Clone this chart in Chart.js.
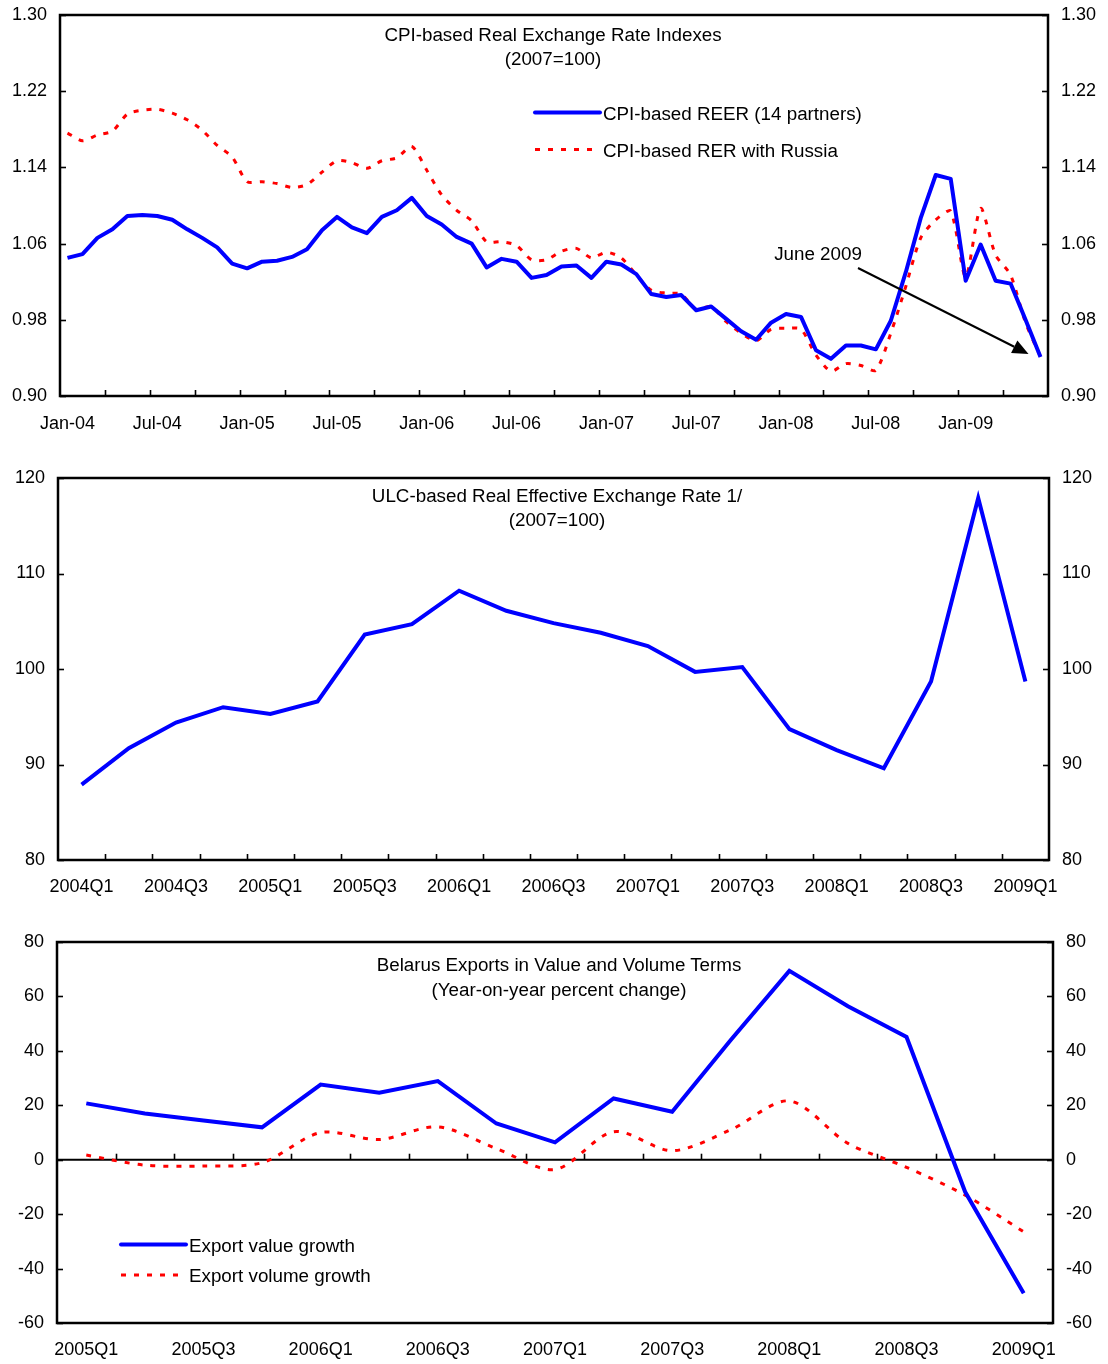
<!DOCTYPE html>
<html><head><meta charset="utf-8">
<script src="https://cdn.jsdelivr.net/npm/chart.js@4.4.1/dist/chart.umd.min.js"></script>
<style>
html,body{margin:0;padding:0;background:#fff;}
body{width:1108px;height:1364px;position:relative;overflow:hidden;font-family:"Liberation Sans",Arial,sans-serif;color:#000;}
.cv{position:absolute;left:0;width:1108px;}
.t{position:absolute;font-size:18.8px;line-height:20px;white-space:nowrap;transform:translate(-50%,-50%);}
.l{position:absolute;font-size:18.8px;line-height:20px;white-space:nowrap;transform:translateY(-50%);}
svg.ov{position:absolute;left:0;top:0;pointer-events:none;}
</style></head><body>
<div class="cv" style="top:0;height:445px"><canvas id="c1"></canvas></div>
<div class="cv" style="top:455px;height:450px"><canvas id="c2"></canvas></div>
<div class="cv" style="top:915px;height:449px"><canvas id="c3"></canvas></div>

<svg class="ov" width="1108" height="1364">
  <line x1="535" y1="112.5" x2="600" y2="112.5" stroke="#0000FF" stroke-width="4" stroke-linecap="round"/>
  <line x1="535" y1="149.5" x2="598" y2="149.5" stroke="#FF0000" stroke-width="3" stroke-dasharray="5 8"/>
  <line x1="121" y1="1244.5" x2="186" y2="1244.5" stroke="#0000FF" stroke-width="4" stroke-linecap="round"/>
  <line x1="121" y1="1275" x2="184" y2="1275" stroke="#FF0000" stroke-width="3" stroke-dasharray="5 8"/>
</svg>

<div class="t" style="left:553px;top:35px">CPI-based Real Exchange Rate Indexes</div>
<div class="t" style="left:553px;top:59px">(2007=100)</div>
<div class="l" style="left:603px;top:114px">CPI-based REER (14 partners)</div>
<div class="l" style="left:603px;top:151px">CPI-based RER with Russia</div>
<div class="t" style="left:818px;top:254px">June 2009</div>

<div class="t" style="left:557px;top:496px">ULC-based Real Effective Exchange Rate 1/</div>
<div class="t" style="left:557px;top:520px">(2007=100)</div>

<div class="t" style="left:559px;top:965px">Belarus Exports in Value and Volume Terms</div>
<div class="t" style="left:559px;top:990px">(Year-on-year percent change)</div>
<div class="l" style="left:189px;top:1246px">Export value growth</div>
<div class="l" style="left:189px;top:1276px">Export volume growth</div>

<script>
// ---------- DATA ----------
const months = ["Jan-04","Feb-04","Mar-04","Apr-04","May-04","Jun-04","Jul-04","Aug-04","Sep-04","Oct-04","Nov-04","Dec-04",
"Jan-05","Feb-05","Mar-05","Apr-05","May-05","Jun-05","Jul-05","Aug-05","Sep-05","Oct-05","Nov-05","Dec-05",
"Jan-06","Feb-06","Mar-06","Apr-06","May-06","Jun-06","Jul-06","Aug-06","Sep-06","Oct-06","Nov-06","Dec-06",
"Jan-07","Feb-07","Mar-07","Apr-07","May-07","Jun-07","Jul-07","Aug-07","Sep-07","Oct-07","Nov-07","Dec-07",
"Jan-08","Feb-08","Mar-08","Apr-08","May-08","Jun-08","Jul-08","Aug-08","Sep-08","Oct-08","Nov-08","Dec-08",
"Jan-09","Feb-09","Mar-09","Apr-09","May-09","Jun-09"];
const reer14Partners = [1.045,1.049,1.066,1.075,1.089,1.090,1.089,1.085,1.075,1.066,1.056,1.039,
1.034,1.041,1.042,1.046,1.054,1.074,1.088,1.077,1.071,1.088,1.095,1.108,
1.089,1.080,1.067,1.060,1.035,1.044,1.041,1.024,1.027,1.036,1.037,1.024,
1.041,1.038,1.028,1.007,1.004,1.006,0.990,0.994,0.981,0.968,0.959,0.977,
0.986,0.983,0.948,0.939,0.953,0.953,0.949,0.979,1.030,1.087,1.132,1.128,
1.021,1.059,1.021,1.018,0.980,0.941];
const rerRussia = [1.176,1.168,1.174,1.178,1.196,1.200,1.201,1.197,1.190,1.179,1.163,1.151,
1.125,1.125,1.123,1.119,1.122,1.135,1.147,1.145,1.139,1.147,1.150,1.162,
1.137,1.111,1.095,1.084,1.062,1.062,1.058,1.043,1.043,1.052,1.055,1.045,
1.051,1.045,1.027,1.011,1.008,1.007,0.991,0.994,0.978,0.966,0.958,0.970,
0.971,0.970,0.943,0.926,0.934,0.932,0.927,0.966,1.015,1.066,1.085,1.094,
1.025,1.097,1.048,1.027,0.977,0.941];

const quartersUlc = ["2004Q1","2004Q2","2004Q3","2004Q4","2005Q1","2005Q2","2005Q3","2005Q4",
"2006Q1","2006Q2","2006Q3","2006Q4","2007Q1","2007Q2","2007Q3","2007Q4",
"2008Q1","2008Q2","2008Q3","2008Q4","2009Q1"];
const ulcReer = [87.9,91.7,94.4,96.0,95.3,96.6,103.6,104.7,108.2,106.1,104.8,103.8,102.4,99.7,100.2,93.7,91.5,89.6,98.7,117.9,98.7];

const quartersExp = ["2005Q1","2005Q2","2005Q3","2005Q4","2006Q1","2006Q2","2006Q3","2006Q4",
"2007Q1","2007Q2","2007Q3","2007Q4","2008Q1","2008Q2","2008Q3","2008Q4","2009Q1"];
const exportValueGrowth = [20.7,17.0,14.4,11.9,27.6,24.6,28.9,13.3,6.4,22.5,17.6,44.0,69.4,56.4,45.1,-11.8,-49.1];
const exportVolumeGrowth = [1.7,-2.0,-2.3,-1.1,10.0,7.4,12.1,4.1,-3.6,10.3,3.3,11.0,21.6,6.0,-2.8,-13.0,-26.5];

// ---------- SETUP ----------
Chart.defaults.font.family = '"Liberation Sans", Arial, sans-serif';
Chart.defaults.font.size = 18;
Chart.defaults.color = '#000';

const framePlugin = {
  id: 'frame',
  beforeDatasetsDraw(chart, args, o) {
    if (o.zeroLine) {
      const {ctx, chartArea: a} = chart;
      const py = chart.scales.y.getPixelForValue(0);
      ctx.save();
      ctx.strokeStyle = '#000'; ctx.lineWidth = 2;
      ctx.beginPath(); ctx.moveTo(a.left, py); ctx.lineTo(a.right, py); ctx.stroke();
      ctx.restore();
    }
  },
  afterDatasetsDraw(chart, args, o) {
    const {ctx, chartArea: a, scales} = chart;
    ctx.save();
    ctx.strokeStyle = '#000';
    ctx.lineWidth = 2.5;
    ctx.strokeRect(a.left, a.top, a.right - a.left, a.bottom - a.top);
    ctx.lineWidth = 1.6;
    const line = (x1, y1, x2, y2) => { ctx.beginPath(); ctx.moveTo(x1, y1); ctx.lineTo(x2, y2); ctx.stroke(); };
    const y = scales.y;
    y.ticks.forEach((t, i) => {
      const py = Math.round(y.getPixelForTick(i)) + 0.5;
      line(a.left, py, a.left + 6, py);
      line(a.right - 6, py, a.right, py);
    });
    const x = scales.x;
    const n = chart.data.labels.length;
    const half = (x.getPixelForValue(1) - x.getPixelForValue(0)) / 2;
    const baseY = (o.tickBase === undefined || o.tickBase === null) ? a.bottom : y.getPixelForValue(o.tickBase);
    for (let k = o.xTickEvery; k < n; k += o.xTickEvery) {
      const px = Math.round(x.getPixelForValue(k) - half) + 0.5;
      line(px, baseY, px, baseY - 6);
    }
    if (o.arrow) {
      // annotation arrow pointing at the last observation (June 2009)
      const last = chart.data.datasets[0].data.length - 1;
      const tx = x.getPixelForValue(last) - 12;
      const ty = y.getPixelForValue(chart.data.datasets[0].data[last]) - 3;
      const sx = 858, sy = 268;
      const ang = Math.atan2(ty - sy, tx - sx);
      const hl = 16, hw = 7;
      const bx = tx - hl * Math.cos(ang), by = ty - hl * Math.sin(ang);
      ctx.lineWidth = 2;
      line(sx, sy, bx, by);
      ctx.fillStyle = '#000';
      ctx.beginPath();
      ctx.moveTo(tx, ty);
      ctx.lineTo(bx + hw * Math.sin(ang), by - hw * Math.cos(ang));
      ctx.lineTo(bx - hw * Math.sin(ang), by + hw * Math.cos(ang));
      ctx.closePath(); ctx.fill();
    }
    ctx.restore();
  }
};

function yAxis(pos, min, max, step, decimals, width) {
  return {
    position: pos, min: min, max: max,
    ticks: { stepSize: step, padding: 13, callback: v => Number(v).toFixed(decimals) },
    grid: { display: false, drawTicks: false },
    border: { display: false },
    afterFit(s) { s.width = width; s.paddingTop = 0; s.paddingBottom = 0; }
  };
}
function xAxis(every, height, padding) {
  return {
    type: 'category', offset: true,
    ticks: { autoSkip: false, maxRotation: 0, padding: padding,
      callback: function (v, i) { return (i % every === 0) ? this.getLabelForValue(v) : null; } },
    grid: { display: false, drawTicks: false, offset: true },
    border: { display: false },
    afterFit(s) { s.height = height; }
  };
}
const common = {
  responsive: true, maintainAspectRatio: false, animation: false,
  plugins: { legend: { display: false }, tooltip: { enabled: false } },
  elements: { point: { radius: 0 } }
};

new Chart(document.getElementById('c1'), {
  type: 'line',
  data: { labels: months, datasets: [
    { label: 'CPI-based REER (14 partners)', data: reer14Partners, borderColor: '#0000FF', borderWidth: 4, tension: 0, borderJoinStyle: 'round' },
    { label: 'CPI-based RER with Russia', data: rerRussia, borderColor: '#FF0000', borderWidth: 3, borderDash: [5, 8], tension: 0.25 }
  ]},
  options: Object.assign({}, common, {
    layout: { padding: { top: 15, left: 0, right: 0, bottom: 0 } },
    scales: { x: xAxis(6, 49, 17), y: yAxis('left', 0.90, 1.30, 0.08, 2, 60), y2: yAxis('right', 0.90, 1.30, 0.08, 2, 60) },
    plugins: Object.assign({}, common.plugins, { frame: { xTickEvery: 3, arrow: true } })
  }),
  plugins: [framePlugin]
});

new Chart(document.getElementById('c2'), {
  type: 'line',
  data: { labels: quartersUlc, datasets: [
    { label: 'ULC-based REER', data: ulcReer, borderColor: '#0000FF', borderWidth: 4, tension: 0 }
  ]},
  options: Object.assign({}, common, {
    layout: { padding: { top: 23, left: 0, right: 0, bottom: 0 } },
    scales: { x: xAxis(2, 45, 16), y: yAxis('left', 80, 120, 10, 0, 58), y2: yAxis('right', 80, 120, 10, 0, 59) },
    plugins: Object.assign({}, common.plugins, { frame: { xTickEvery: 1 } })
  }),
  plugins: [framePlugin]
});

new Chart(document.getElementById('c3'), {
  type: 'line',
  data: { labels: quartersExp, datasets: [
    { label: 'Export value growth', data: exportValueGrowth, borderColor: '#0000FF', borderWidth: 4, tension: 0 },
    { label: 'Export volume growth', data: exportVolumeGrowth, borderColor: '#FF0000', borderWidth: 3, borderDash: [5, 8], tension: 0.3 }
  ]},
  options: Object.assign({}, common, {
    layout: { padding: { top: 27, left: 0, right: 0, bottom: 0 } },
    scales: { x: xAxis(2, 41, 16), y: yAxis('left', -60, 80, 20, 0, 57), y2: yAxis('right', -60, 80, 20, 0, 55) },
    plugins: Object.assign({}, common.plugins, { frame: { xTickEvery: 1, tickBase: 0, zeroLine: true } })
  }),
  plugins: [framePlugin]
});
</script>
</body></html>
